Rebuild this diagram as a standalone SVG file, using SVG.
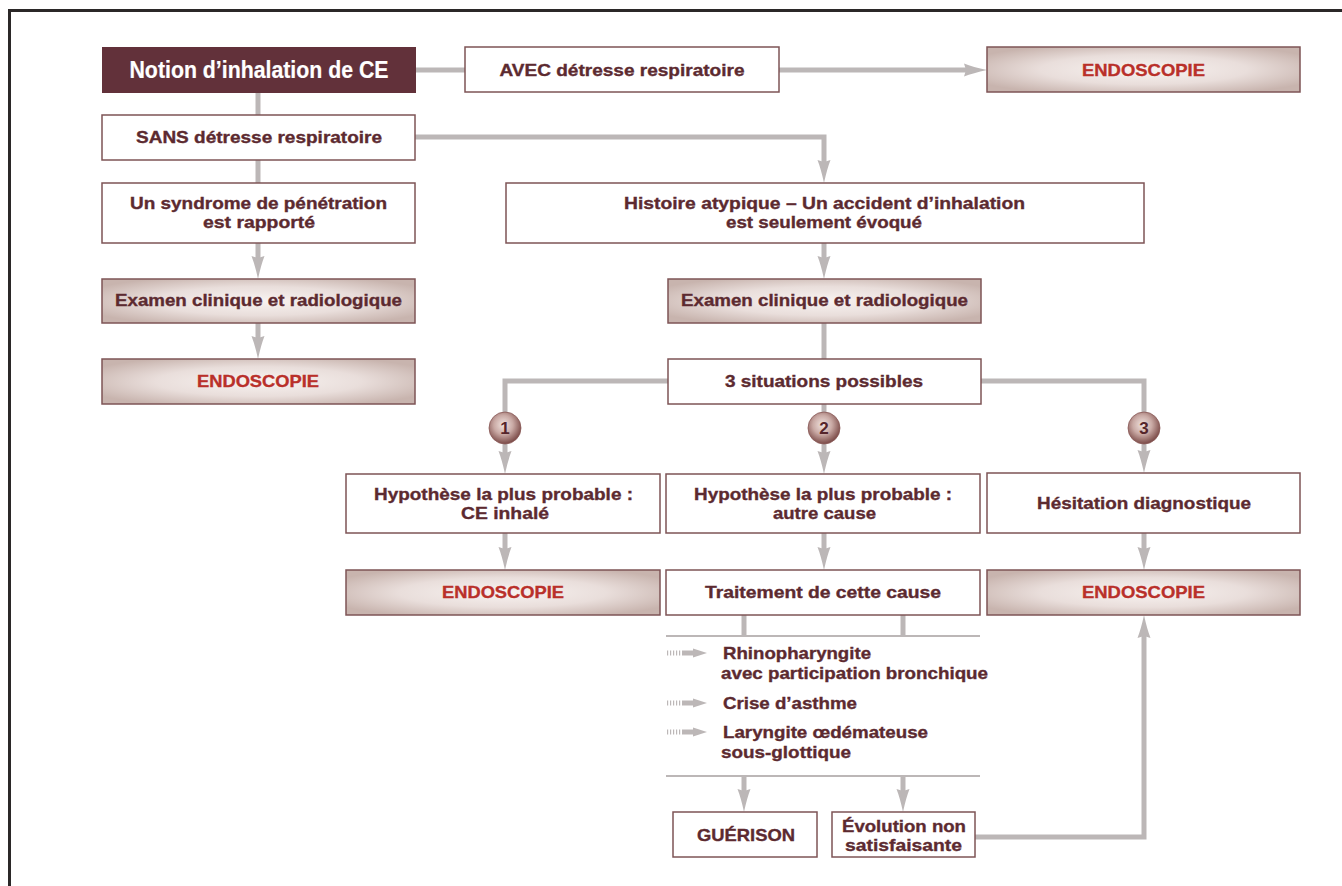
<svg xmlns="http://www.w3.org/2000/svg" width="1342" height="886" viewBox="0 0 1342 886">
<style>
.box{fill:#ffffff;stroke:#7e5456;stroke-width:1.5}
.gbox{fill:url(#boxGrad);stroke:#7e5456;stroke-width:1.5}
.dark{fill:#62313a}
.t{font-family:"Liberation Sans",Arial,sans-serif;font-weight:bold;font-size:17px;fill:#5c2a30;stroke:#5c2a30;stroke-width:0.35;text-anchor:middle}
.tl{font-family:"Liberation Sans",Arial,sans-serif;font-weight:bold;font-size:17px;fill:#5c2a30;stroke:#5c2a30;stroke-width:0.35;text-anchor:start}
.red{fill:#b9302a;stroke:#b9302a;font-size:17px}
.white{fill:#ffffff;stroke:#ffffff;stroke-width:0.2;font-size:23px}
.num{font-family:"Liberation Sans",Arial,sans-serif;font-weight:bold;font-size:17px;fill:#55252b;text-anchor:middle}
.conn{fill:none;stroke:#bcb7b7;stroke-width:5}
.arr{fill:none;stroke:#bcb7b7;stroke-width:5;marker-end:url(#ah)}
.thin{fill:none;stroke:#bcb7b7;stroke-width:2}
.circ{fill:url(#circGrad);stroke:#8a5a58;stroke-width:0.8}
</style>
<defs>
<radialGradient id="boxGrad" cx="0.5" cy="0.5" r="0.6">
<stop offset="0" stop-color="#f8f3f1"/>
<stop offset="0.55" stop-color="#e9dedb"/>
<stop offset="1" stop-color="#c8b4ae"/>
</radialGradient>
<radialGradient id="circGrad" cx="0.45" cy="0.4" r="0.6">
<stop offset="0" stop-color="#f1e4e0"/>
<stop offset="0.5" stop-color="#c9a9a4"/>
<stop offset="1" stop-color="#7a4946"/>
</radialGradient>
<marker id="ah" markerUnits="userSpaceOnUse" markerWidth="24" markerHeight="16" refX="4" refY="8" orient="auto">
<path d="M0,1.5 Q9,5 23,8 Q9,11 0,14.5 L2,8 Z" fill="#bcb7b7"/>
</marker>
<g id="dashArrow">
<path d="M0,0 H16" stroke="#bcb7b7" stroke-width="5" stroke-dasharray="1.2 1.8" fill="none"/>
<path d="M16,0 H27" stroke="#bcb7b7" stroke-width="5" fill="none"/>
<path d="M26,-4.5 L40,0 L26,4.5 Z" fill="#bcb7b7"/>
</g>
</defs>

<rect x="9.5" y="10.5" width="1400" height="1000" fill="#ffffff" stroke="#2b2828" stroke-width="3"/>

<g id="connectors">
<path class="conn" d="M416,70 H465"/>
<path class="arr" d="M779,70 H968"/>
<path class="conn" d="M258,93 V115"/>
<path class="conn" d="M258,160 V183"/>
<path class="arr" d="M415,137 H824 V164"/>
<path class="arr" d="M258,243 V260"/>
<path class="arr" d="M258,323 V340"/>
<path class="arr" d="M824,243 V260"/>
<path class="conn" d="M824,323 V359"/>
<path class="arr" d="M668,381 H505 V455"/>
<path class="arr" d="M824,404 V455"/>
<path class="arr" d="M981,381 H1144 V454"/>
<path class="arr" d="M505,533 V551"/>
<path class="arr" d="M824,533 V551"/>
<path class="arr" d="M1144,533 V551"/>
<path class="conn" d="M744,615 V636"/>
<path class="conn" d="M903,615 V636"/>
<path class="thin" d="M666,636 H980"/>
<path class="thin" d="M666,776 H980"/>
<path class="arr" d="M744,776 V793"/>
<path class="arr" d="M903,776 V793"/>
<path class="arr" d="M975,837 H1144 V634"/>
</g>

<g id="n-notion">
<rect class="dark" x="102" y="47" width="314" height="46"/>
<text class="t white" x="259" y="78" textLength="259" lengthAdjust="spacingAndGlyphs">Notion d’inhalation de CE</text>
</g>
<g id="n-avec">
<rect class="box" x="465" y="47" width="314" height="45"/>
<text class="t" x="622" y="76" textLength="245" lengthAdjust="spacingAndGlyphs">AVEC détresse respiratoire</text>
</g>
<g id="n-endo-top">
<rect class="gbox" x="987" y="47" width="313" height="45"/>
<text class="t red" x="1143.5" y="76" textLength="123" lengthAdjust="spacingAndGlyphs">ENDOSCOPIE</text>
</g>
<g id="n-sans">
<rect class="box" x="102" y="115" width="313" height="45"/>
<text class="t" x="259" y="143" textLength="246" lengthAdjust="spacingAndGlyphs">SANS détresse respiratoire</text>
</g>
<g id="n-syndrome">
<rect class="box" x="102" y="183" width="313" height="60"/>
<text class="t" x="258.5" y="209" textLength="257" lengthAdjust="spacingAndGlyphs">Un syndrome de pénétration</text>
<text class="t" x="259" y="228" textLength="112" lengthAdjust="spacingAndGlyphs">est rapporté</text>
</g>
<g id="n-examen-left">
<rect class="gbox" x="102" y="279" width="313" height="44"/>
<text class="t" x="258.5" y="306" textLength="287" lengthAdjust="spacingAndGlyphs">Examen clinique et radiologique</text>
</g>
<g id="n-endo-left">
<rect class="gbox" x="102" y="359" width="313" height="45"/>
<text class="t red" x="258" y="387" textLength="122" lengthAdjust="spacingAndGlyphs">ENDOSCOPIE</text>
</g>
<g id="n-histoire">
<rect class="box" x="506" y="183" width="638" height="60"/>
<text class="t" x="824.5" y="209" textLength="401" lengthAdjust="spacingAndGlyphs">Histoire atypique – Un accident d’inhalation</text>
<text class="t" x="824" y="228" textLength="196" lengthAdjust="spacingAndGlyphs">est seulement évoqué</text>
</g>
<g id="n-examen-mid">
<rect class="gbox" x="668" y="279" width="313" height="44"/>
<text class="t" x="824.5" y="306" textLength="287" lengthAdjust="spacingAndGlyphs">Examen clinique et radiologique</text>
</g>
<g id="n-situations">
<rect class="box" x="668" y="359" width="313" height="45"/>
<text class="t" x="824" y="387" textLength="198" lengthAdjust="spacingAndGlyphs">3 situations possibles</text>
</g>
<g id="n-c1">
<circle class="circ" cx="505" cy="428" r="16"/>
<text class="num" x="505" y="434">1</text>
</g>
<g id="n-c2">
<circle class="circ" cx="824" cy="428" r="16"/>
<text class="num" x="824" y="434">2</text>
</g>
<g id="n-c3">
<circle class="circ" cx="1144" cy="428" r="16"/>
<text class="num" x="1144" y="434">3</text>
</g>
<g id="n-hyp1">
<rect class="box" x="346" y="474" width="314" height="59"/>
<text class="t" x="503.5" y="500" textLength="259" lengthAdjust="spacingAndGlyphs">Hypothèse la plus probable :</text>
<text class="t" x="505" y="519" textLength="88" lengthAdjust="spacingAndGlyphs">CE inhalé</text>
</g>
<g id="n-hyp2">
<rect class="box" x="666" y="474" width="314" height="59"/>
<text class="t" x="823" y="500" textLength="258" lengthAdjust="spacingAndGlyphs">Hypothèse la plus probable :</text>
<text class="t" x="824.5" y="519" textLength="103" lengthAdjust="spacingAndGlyphs">autre cause</text>
</g>
<g id="n-hesitation">
<rect class="box" x="987" y="473" width="313" height="60"/>
<text class="t" x="1144" y="509" textLength="214" lengthAdjust="spacingAndGlyphs">Hésitation diagnostique</text>
</g>
<g id="n-endo1">
<rect class="gbox" x="346" y="570" width="314" height="45"/>
<text class="t red" x="503" y="598" textLength="122" lengthAdjust="spacingAndGlyphs">ENDOSCOPIE</text>
</g>
<g id="n-traitement">
<rect class="box" x="666" y="570" width="314" height="45"/>
<text class="t" x="823" y="598" textLength="236" lengthAdjust="spacingAndGlyphs">Traitement de cette cause</text>
</g>
<g id="n-endo3">
<rect class="gbox" x="987" y="570" width="313" height="45"/>
<text class="t red" x="1143.5" y="598" textLength="123" lengthAdjust="spacingAndGlyphs">ENDOSCOPIE</text>
</g>
<g id="n-causes">
<use href="#dashArrow" x="667" y="653"/>
<use href="#dashArrow" x="667" y="703"/>
<use href="#dashArrow" x="667" y="732"/>
<text class="tl" x="723" y="659" textLength="148" lengthAdjust="spacingAndGlyphs">Rhinopharyngite</text>
<text class="tl" x="721" y="679" textLength="267" lengthAdjust="spacingAndGlyphs">avec participation bronchique</text>
<text class="tl" x="723" y="709" textLength="134" lengthAdjust="spacingAndGlyphs">Crise d’asthme</text>
<text class="tl" x="723" y="738" textLength="205" lengthAdjust="spacingAndGlyphs">Laryngite œdémateuse</text>
<text class="tl" x="721" y="758" textLength="130" lengthAdjust="spacingAndGlyphs">sous-glottique</text>
</g>
<g id="n-guerison">
<rect class="box" x="673" y="812" width="144" height="45"/>
<text class="t" x="746" y="841" textLength="98" lengthAdjust="spacingAndGlyphs">GUÉRISON</text>
</g>
<g id="n-evolution">
<rect class="box" x="832" y="812" width="143" height="45"/>
<text class="t" x="904" y="832" textLength="124" lengthAdjust="spacingAndGlyphs">Évolution non</text>
<text class="t" x="903.5" y="851" textLength="117" lengthAdjust="spacingAndGlyphs">satisfaisante</text>
</g>
</svg>
